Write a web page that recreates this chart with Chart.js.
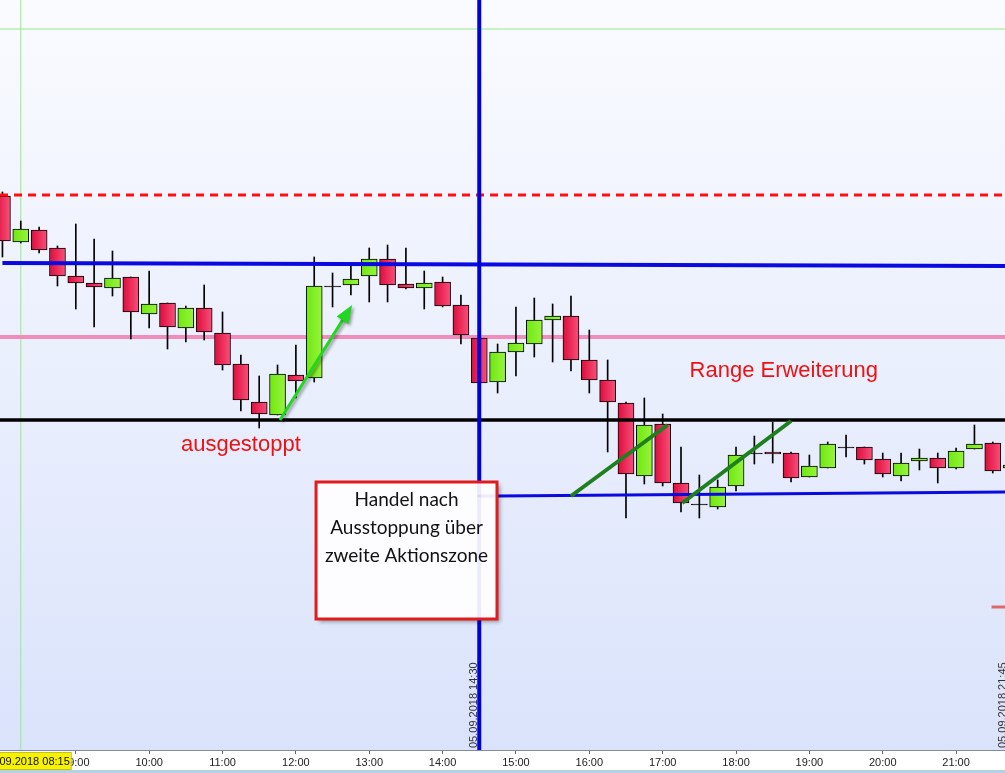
<!DOCTYPE html>
<html lang="de">
<head>
    <meta charset="UTF-8">
    <title>DAX 15 Min - 05.09.2018</title>
    <script src="https://cdn.jsdelivr.net/npm/chart.js"></script>
    <style>
        html, body { margin: 0; padding: 0; background: #fff; overflow: hidden; }
        #wrap { width: 1005px; height: 773px; }
    </style>
</head>
<body>
<div id="wrap"><canvas id="kerzenChart" width="1005" height="773"></canvas></div>
<script>
// 15-Minuten-Kerzen vom 05.09.2018
const zeiten = ['08:00','08:15','08:30','08:45','09:00','09:15','09:30','09:45',
    '10:00','10:15','10:30','10:45','11:00','11:15','11:30','11:45',
    '12:00','12:15','12:30','12:45','13:00','13:15','13:30','13:45',
    '14:00','14:15','14:30','14:45','15:00','15:15','15:30','15:45',
    '16:00','16:15','16:30','16:45','17:00','17:15','17:30','17:45',
    '18:00','18:15','18:30','18:45','19:00','19:15','19:30','19:45',
    '20:00','20:15','20:30','20:45','21:00','21:15','21:30','21:45'];
const eroeffnung = [12202,12179,12185,12176,12162,12158.5,12156,12161.5,
    12143,12148.5,12136,12146,12133.5,12118,12099,12092.5,
    12112.5,12111,12157,12157.5,12162,12170.5,12158,12156,
    12159,12147.5,12131,12109,12124,12128,12140,12142,
    12120,12110,12098.5,12062,12088,12058.5,12048,12046.5,
    12057,12073.5,12074,12073.5,12061.5,12066,12076.5,12076.5,
    12070.5,12062,12069.5,12071,12066,12075.5,12078.5,12066];
const hoch = [12204,12189.5,12186.5,12177,12188,12180.5,12174.5,12161.5,
    12164.5,12148.5,12147,12157.5,12144,12122.5,12112,12117.5,
    12127.5,12171.5,12163.5,12167,12176,12177.5,12176,12164.5,
    12161.5,12152.5,12132.5,12128,12146.5,12151,12148,12152,
    12135,12120,12099,12101,12093,12076.5,12062.5,12060,
    12076.5,12082,12089,12074,12072.5,12079,12082.5,12076.5,
    12073.5,12073.5,12075.5,12073.5,12076,12087.5,12079,12070];
const tief = [12171.5,12178.5,12173.5,12157,12145.5,12136.5,12152,12130.5,
    12136,12125.5,12129,12130,12115,12094.5,12086,12092.5,
    12101,12109,12146.5,12152.5,12149,12149,12155.5,12145.5,
    12146.5,12128,12107.5,12103.5,12112,12121.5,12119,12114.5,
    12103.5,12074,12041,12058,12057,12044,12041,12045.5,
    12054.5,12068,12068.5,12059,12061.5,12066,12071.5,12068,
    12061.5,12059.5,12065,12058.5,12065.5,12075.5,12063.5,12065];
const schluss = [12179.5,12185.5,12175,12162,12158.5,12156.5,12161,12144,
    12148,12136.5,12146,12134,12117.5,12100,12093,12113,
    12109.5,12157,12156.5,12160.5,12170.5,12157.5,12156,12158.5,
    12147,12132.5,12108.5,12124,12128.5,12140,12142,12120,
    12110,12099,12063,12087.5,12058.5,12048.5,12047.5,12056.5,
    12072.5,12073,12073,12061,12067,12078,12076,12070,
    12063,12068.5,12071,12066,12074.5,12078,12064.5,12067.5];
const achsenLabels = ['09:00','10:00','11:00','12:00','13:00','14:00','15:00',
    '16:00','17:00','18:00','19:00','20:00','21:00'];

// eingezeichnete Marken (Zeit / Kurs)
const stoppLinieRot = 12202.5;
const pinkeLinie = 12131.5;
const schwarzeLinie = 12090;
const gruenLinie = 12285.5;
const blauOben = [['08:00', 12168.5], ['21:40', 12167]];
const blauUnten = [['14:45', 12052], ['21:40', 12054]];
const gruenerPfeil = [['11:47', 12090], ['12:46', 12147.5]];
const trendlinien = [
    [['15:45', 12052], ['17:04', 12087.5]],
    [['17:16', 12048.5], ['18:45', 12089.5]]
];
const senkrechteLinie = '14:30';
const startLinie = '08:15';
const kursMarke = 11996.5;

function minuten(t) {
    const [h, m] = t.split(':').map(Number);
    return h * 60 + m;
}

const koerper = zeiten.map((t, i) => ({ x: minuten(t), y: [eroeffnung[i], schluss[i]] }));
const dochte = zeiten.map((t, i) => ({ x: minuten(t), y: [tief[i], hoch[i]] }));

// Kerzenfarbe mit leichtem Verlauf von links nach rechts
function kerzenFarbe(ctx) {
    const i = ctx.dataIndex;
    const diff = schluss[i] - eroeffnung[i];
    if (Math.abs(diff) <= 0.5) return '#000000';
    const einfach = diff > 0 ? '#7aee1c' : '#ea1a4c';
    const chart = ctx.chart;
    if (!chart.scales || !chart.scales.x || !ctx.raw) return einfach;
    const x = chart.scales.x.getPixelForValue(ctx.raw.x);
    if (!Number.isFinite(x)) return einfach;
    const g = chart.ctx.createLinearGradient(x - 8, 0, x + 8, 0);
    if (diff > 0) {
        g.addColorStop(0, '#6fe80f');
        g.addColorStop(1, '#97f43e');
    } else {
        g.addColorStop(0, '#de0c3c');
        g.addColorStop(1, '#f8507a');
    }
    return g;
}

const zeichnungen = {
    id: 'zeichnungen',
    beforeDraw(chart) {
        const { ctx, chartArea: a } = chart;
        ctx.save();
        ctx.fillStyle = '#ffffff';
        ctx.fillRect(0, 0, chart.width, chart.height);
        const g = ctx.createLinearGradient(0, a.top, 0, a.bottom);
        g.addColorStop(0, '#fafbff');
        g.addColorStop(1, '#dae3fb');
        ctx.fillStyle = g;
        ctx.fillRect(a.left, a.top, a.right - a.left, a.bottom - a.top);
        ctx.fillStyle = '#b4d2e2';
        ctx.fillRect(0, chart.height - 3, chart.width, 3);
        ctx.restore();
    },
    beforeDatasetsDraw(chart) {
        const { ctx, chartArea: a } = chart;
        const ys = chart.scales.y, xs = chart.scales.x;
        ctx.save();
        ctx.lineWidth = 1;
        ctx.strokeStyle = '#95ea86';
        ctx.beginPath();
        ctx.moveTo(a.left, ys.getPixelForValue(gruenLinie));
        ctx.lineTo(a.right, ys.getPixelForValue(gruenLinie));
        ctx.moveTo(xs.getPixelForValue(minuten(startLinie)), a.top);
        ctx.lineTo(xs.getPixelForValue(minuten(startLinie)), a.bottom);
        ctx.stroke();
        // pinke Linie liegt hinter den Kerzen
        ctx.beginPath();
        ctx.strokeStyle = '#f28cbd';
        ctx.lineWidth = 4;
        ctx.moveTo(a.left, ys.getPixelForValue(pinkeLinie));
        ctx.lineTo(a.right, ys.getPixelForValue(pinkeLinie));
        ctx.stroke();
        ctx.restore();
    },
    afterDatasetsDraw(chart) {
        const { ctx, chartArea: a } = chart;
        const xs = chart.scales.x, ys = chart.scales.y;
        const px = t => xs.getPixelForValue(typeof t === 'string' ? minuten(t) : t);
        const py = v => ys.getPixelForValue(v);
        const linie = (p1, p2, farbe, breite, dash) => {
            ctx.beginPath();
            ctx.strokeStyle = farbe;
            ctx.lineWidth = breite;
            ctx.setLineDash(dash || []);
            ctx.moveTo(p1[0], p1[1]);
            ctx.lineTo(p2[0], p2[1]);
            ctx.stroke();
            ctx.setLineDash([]);
        };

        ctx.save();
        ctx.beginPath();
        ctx.rect(a.left, a.top, a.right - a.left, a.bottom - a.top);
        ctx.clip();

        linie([a.left, py(stoppLinieRot)], [a.right, py(stoppLinieRot)], '#ff1010', 3, [8, 6]);
        linie([px(blauOben[0][0]), py(blauOben[0][1])], [px(blauOben[1][0]), py(blauOben[1][1])], '#0a0ae0', 4);
        linie([a.left, py(schwarzeLinie)], [a.right, py(schwarzeLinie)], '#000000', 3.5);
        linie([px(blauUnten[0][0]), py(blauUnten[0][1])], [px(blauUnten[1][0]), py(blauUnten[1][1])], '#0a0ae0', 3);
        linie([px(senkrechteLinie), a.top], [px(senkrechteLinie), a.bottom], '#0000dc', 4);

        trendlinien.forEach(tl => {
            linie([px(tl[0][0]), py(tl[0][1])], [px(tl[1][0]), py(tl[1][1])], '#1f7f1f', 4);
        });

        // grüner Pfeil
        const x1 = px(gruenerPfeil[0][0]), y1 = py(gruenerPfeil[0][1]);
        const x2 = px(gruenerPfeil[1][0]), y2 = py(gruenerPfeil[1][1]);
        const w = Math.atan2(y2 - y1, x2 - x1);
        ctx.save();
        ctx.shadowColor = 'rgba(0,0,0,0.35)';
        ctx.shadowOffsetX = 2;
        ctx.shadowOffsetY = 2;
        ctx.shadowBlur = 3;
        ctx.beginPath();
        ctx.strokeStyle = '#22d622';
        ctx.lineWidth = 3;
        ctx.moveTo(x1, y1);
        ctx.lineTo(x2 - 12 * Math.cos(w), y2 - 12 * Math.sin(w));
        ctx.stroke();
        ctx.beginPath();
        ctx.fillStyle = '#22d622';
        ctx.moveTo(x2, y2);
        ctx.lineTo(x2 - 18 * Math.cos(w) + 7 * Math.sin(w), y2 - 18 * Math.sin(w) - 7 * Math.cos(w));
        ctx.lineTo(x2 - 18 * Math.cos(w) - 7 * Math.sin(w), y2 - 18 * Math.sin(w) + 7 * Math.cos(w));
        ctx.closePath();
        ctx.fill();
        ctx.restore();

        // rote Kursmarke rechts
        linie([px(1289), py(kursMarke)], [a.right, py(kursMarke)], '#dd6a6a', 3);

        // Beschriftungen
        ctx.fillStyle = '#ee1111';
        ctx.font = '22px "Liberation Sans", Arial, sans-serif';
        ctx.textAlign = 'center';
        ctx.textBaseline = 'middle';
        ctx.fillText('ausgestoppt', px('11:15'), py(12077.5));
        ctx.fillText('Range Erweiterung', px('18:39'), py(12114.5));

        // Kommentar-Box
        const bx1 = px(736.5), bx2 = px(884.5), by1 = py(12059), by2 = py(11990.5);
        ctx.save();
        ctx.shadowColor = 'rgba(0,0,0,0.35)';
        ctx.shadowOffsetX = 3;
        ctx.shadowOffsetY = 3;
        ctx.shadowBlur = 4;
        ctx.fillStyle = '#fdfdff';
        ctx.fillRect(bx1, by1, bx2 - bx1, by2 - by1);
        ctx.restore();
        // blaue Linie schimmert durch die Box
        linie([px(senkrechteLinie), by1], [px(senkrechteLinie), by2], 'rgba(0,0,220,0.07)', 4);
        linie([px(senkrechteLinie) - 2, py(12052)], [bx2, py(12052)], 'rgba(0,0,220,0.07)', 3);
        ctx.strokeStyle = '#e01c1c';
        ctx.lineWidth = 3;
        ctx.strokeRect(bx1, by1, bx2 - bx1, by2 - by1);
        ctx.fillStyle = '#111111';
        ctx.font = '19px Lato, "Open Sans", sans-serif';
        const mx = (bx1 + bx2) / 2;
        ['Handel nach', 'Ausstoppung über', 'zweite Aktionszone'].forEach((z, i) => {
            ctx.fillText(z, mx, by1 + 18 + i * 28);
        });

        // senkrechte Datumstexte
        ctx.fillStyle = '#333333';
        ctx.font = '11px "Liberation Sans", Arial, sans-serif';
        ctx.textAlign = 'left';
        [['05.09.2018 14:30', px(senkrechteLinie) - 5], ['05.09.2018 21:45', a.right - 2]].forEach(d => {
            ctx.save();
            ctx.translate(d[1], a.bottom - 2);
            ctx.rotate(-Math.PI / 2);
            ctx.fillText(d[0], 0, 0);
            ctx.restore();
        });
        ctx.restore();
    },
    afterDraw(chart) {
        const { ctx, chartArea: a } = chart;
        const xs = chart.scales.x;
        const xr = xs.getPixelForValue(minuten(startLinie)) + 50;
        ctx.save();
        ctx.fillStyle = '#f7f200';
        ctx.fillRect(-10, a.bottom + 2, xr + 10, 18);
        ctx.strokeStyle = '#c8c020';
        ctx.lineWidth = 1;
        ctx.strokeRect(-10, a.bottom + 2.5, xr + 10.5, 17);
        ctx.fillStyle = '#111111';
        ctx.font = '11px "Liberation Sans", Arial, sans-serif';
        ctx.textAlign = 'right';
        ctx.textBaseline = 'middle';
        ctx.fillText('05.09.2018 08:15', xr - 1, a.bottom + 11.5);
        ctx.restore();
    }
};

document.addEventListener('DOMContentLoaded', function () {
    new Chart(document.getElementById('kerzenChart').getContext('2d'), {
        type: 'bar',
        data: {
            datasets: [{
                label: 'Körper',
                data: koerper,
                backgroundColor: kerzenFarbe,
                borderColor: '#000000',
                borderWidth: 1,
                borderSkipped: false,
                barThickness: 16,
                grouped: false,
                order: 0
            }, {
                label: 'Docht',
                data: dochte,
                backgroundColor: '#000000',
                borderWidth: 0,
                barThickness: 1,
                grouped: false,
                order: 1
            }]
        },
        options: {
            responsive: false,
            animation: false,
            layout: { padding: 0 },
            plugins: {
                legend: { display: false },
                tooltip: { enabled: false }
            },
            scales: {
                x: {
                    type: 'linear',
                    min: 478,
                    max: 1300,
                    offset: false,
                    afterBuildTicks: axis => {
                        axis.ticks = achsenLabels.map(l => ({ value: minuten(l) }));
                    },
                    afterFit: axis => { axis.height = 23; },
                    grid: { offset: false, drawOnChartArea: false, drawTicks: true, tickLength: 4, color: '#666666' },
                    border: { display: true, color: '#7f8c99' },
                    ticks: {
                        maxRotation: 0,
                        autoSkip: false,
                        padding: 2,
                        color: '#222222',
                        font: { family: '"Liberation Sans", Arial, sans-serif', size: 11 },
                        callback: value => {
                            const h = Math.floor(value / 60);
                            return achsenLabels.find(l => minuten(l) === value) || (String(h).padStart(2, '0') + ':00');
                        }
                    }
                },
                y: {
                    display: false,
                    min: 11925,
                    max: 12300
                }
            }
        },
        plugins: [zeichnungen]
    });
});
</script>
</body>
</html>
